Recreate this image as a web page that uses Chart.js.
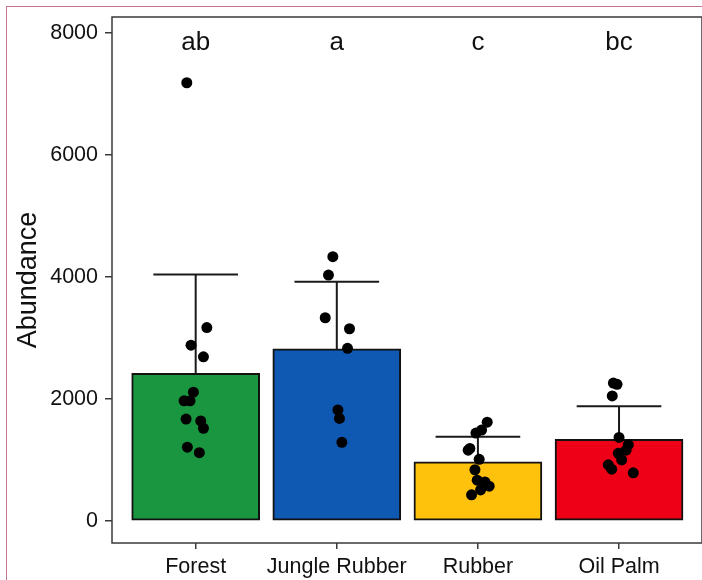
<!DOCTYPE html>
<html>
<head>
<meta charset="utf-8">
<script src="https://cdn.jsdelivr.net/npm/chart.js@4.4.1/dist/chart.umd.min.js"></script>
<style>
  html, body { margin: 0; padding: 0; background: #fff; overflow: hidden; }
  #wrap { position: relative; width: 702px; height: 580px; }
  #edge { position: absolute; left: 6px; top: 6px; width: 800px; height: 700px;
          border-left: 1px solid #c27590; border-top: 1px solid #c27590; pointer-events: none; }
</style>
</head>
<body>
<div id="wrap">
  <canvas id="abundanceChart" width="702" height="580"></canvas>
  <div id="edge"></div>
</div>
<script>
// land-use systems and summary values
const categories = ['Forest', 'Jungle Rubber', 'Rubber', 'Oil Palm'];
const meanValues = [2420, 2820, 970, 1340];
const upperValues = [4040, 3920, 1380, 1880];
const sigLetters = ['ab', 'a', 'c', 'bc'];
const letterLevel = 7720;
const yTickValues = [0, 2000, 4000, 6000, 8000];
const barColors = ['#1a9640', '#0f59b3', '#ffc20c', '#ee0016'];

// individual plots (values) and their horizontal jitter (category units)
const forestPoints = [7180, 3170, 2880, 2690, 2110, 1970, 1970, 1670, 1640, 1520, 1210, 1120];
const forestJitter = [-0.063, 0.079, -0.033, 0.055, -0.016, -0.082, -0.040, -0.068, 0.036, 0.055, -0.059, 0.026];
const jungleRubberPoints = [4330, 4030, 3330, 3150, 2830, 1820, 1680, 1290];
const jungleRubberJitter = [-0.028, -0.059, -0.082, 0.090, 0.076, 0.008, 0.019, 0.036];
const rubberPoints = [1620, 1490, 1440, 1190, 1160, 1010, 840, 670, 640, 570, 510, 430];
const rubberJitter = [0.066, 0.026, -0.014, -0.057, -0.069, 0.009, -0.021, -0.005, 0.050, 0.080, 0.019, -0.045];
const oilPalmPoints = [2260, 2240, 2050, 1370, 1250, 1160, 1110, 1000, 920, 850, 790];
const oilPalmJitter = [-0.040, -0.014, -0.048, 0.000, 0.066, 0.050, -0.005, 0.019, -0.076, -0.052, 0.101];

const groupPoints = [forestPoints, jungleRubberPoints, rubberPoints, oilPalmPoints];
const groupJitter = [forestJitter, jungleRubberJitter, rubberJitter, oilPalmJitter];

const barData = meanValues.map((v, i) => ({ x: i + 1, y: v }));
const dotData = [];
groupPoints.forEach((pts, i) => {
  pts.forEach((v, k) => dotData.push({ x: i + 1 + groupJitter[i][k], y: v }));
});

const textColor = '#111';
const frameColor = '#3a3a3a';
const fontFamily = '"Liberation Sans", Arial, sans-serif';

const extrasPlugin = {
  id: 'extras',
  beforeDatasetsDraw(chart) {
    const { ctx, chartArea } = chart;
    ctx.save();
    ctx.strokeStyle = frameColor;
    ctx.lineWidth = 1.5;
    ctx.strokeRect(chartArea.left, chartArea.top, chartArea.right - chartArea.left, chartArea.bottom - chartArea.top);
    ctx.restore();
  },
  afterDatasetDraw(chart, args) {
    if (args.index !== 0) return;
    const { ctx } = chart;
    const xs = chart.scales.x, ys = chart.scales.y;
    ctx.save();
    ctx.strokeStyle = '#1a1a1a';
    ctx.lineWidth = 2;
    meanValues.forEach((m, i) => {
      const cx = xs.getPixelForValue(i + 1);
      const yTop = ys.getPixelForValue(upperValues[i]);
      const yMean = ys.getPixelForValue(m);
      ctx.beginPath();
      ctx.moveTo(cx, yMean);
      ctx.lineTo(cx, yTop);
      ctx.moveTo(xs.getPixelForValue(i + 1 - 0.3), yTop);
      ctx.lineTo(xs.getPixelForValue(i + 1 + 0.3), yTop);
      ctx.stroke();
    });
    ctx.restore();
  },
  afterDraw(chart) {
    const { ctx } = chart;
    const xs = chart.scales.x, ys = chart.scales.y;
    ctx.save();
    ctx.fillStyle = textColor;
    ctx.font = '26px ' + fontFamily;
    ctx.textAlign = 'center';
    ctx.textBaseline = 'alphabetic';
    sigLetters.forEach((t, i) => {
      ctx.fillText(t, xs.getPixelForValue(i + 1), ys.getPixelForValue(letterLevel));
    });
    ctx.restore();
  }
};

const ctx = document.getElementById('abundanceChart').getContext('2d');

new Chart(ctx, {
  type: 'bar',
  data: {
    datasets: [{
      type: 'bar',
      data: barData,
      backgroundColor: barColors,
      borderColor: '#111',
      borderWidth: 2,
      borderSkipped: false,
      barThickness: 128,
      order: 2
    }, {
      type: 'scatter',
      data: dotData,
      backgroundColor: '#000',
      borderWidth: 0,
      pointRadius: 5.5,
      order: 1
    }]
  },
  options: {
    responsive: false,
    animation: false,
    events: [],
    layout: { autoPadding: false, padding: { top: 17, right: 0, bottom: 0, left: 0 } },
    plugins: { legend: { display: false }, tooltip: { enabled: false } },
    scales: {
      x: {
        type: 'linear',
        min: 0.407,
        max: 4.588,
        offset: false,
        afterBuildTicks(scale) { scale.ticks = categories.map((c, i) => ({ value: i + 1 })); },
        afterFit(scale) { scale.height = 37; scale.paddingLeft = 0; scale.paddingRight = 0; },
        grid: { offset: false, drawOnChartArea: false, drawTicks: true, tickLength: 6, color: frameColor, lineWidth: 1.5 },
        border: { display: false },
        ticks: {
          padding: 5,
          maxRotation: 0,
          autoSkip: false,
          color: textColor,
          font: { family: fontFamily, size: 21.5 },
          callback: (v) => categories[Math.round(v) - 1]
        }
      },
      y: {
        min: -360,
        max: 8257,
        afterBuildTicks(scale) { scale.ticks = yTickValues.map(v => ({ value: v })); },
        afterFit(scale) { scale.width = 112; scale.paddingTop = 0; scale.paddingBottom = 0; },
        grid: { drawOnChartArea: false, drawTicks: true, tickLength: 7, color: frameColor, lineWidth: 1.5 },
        border: { display: false },
        ticks: {
          padding: 7,
          color: textColor,
          font: { family: fontFamily, size: 21.5 },
          callback: (v) => String(v)
        },
        title: {
          display: true,
          text: 'Abundance',
          color: textColor,
          padding: { top: 12, bottom: 0 },
          font: { family: fontFamily, size: 27, lineHeight: 1.2 }
        }
      }
    }
  },
  plugins: [extrasPlugin]
});
</script>
</body>
</html>
